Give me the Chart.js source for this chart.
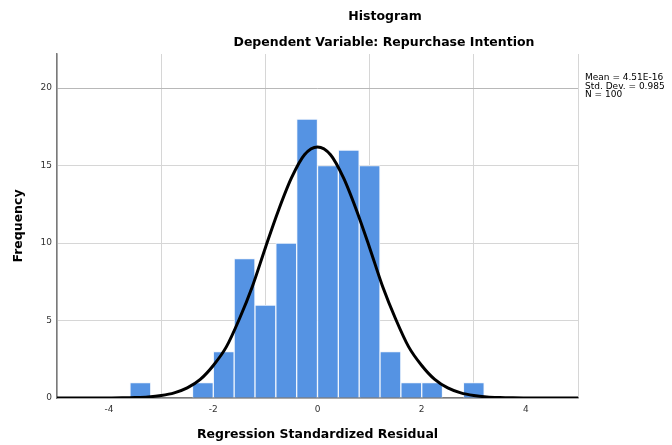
<!DOCTYPE html>
<html>
<head>
<meta charset="utf-8">
<script src="https://cdn.jsdelivr.net/npm/chart.js@4.4.1/dist/chart.umd.min.js"></script>
<style>
  html, body { margin: 0; padding: 0; background: #fff; }
  #wrap { width: 672px; height: 445px; }
</style>
</head>
<body>
<div id="wrap"><canvas id="histograma" width="672" height="445"></canvas></div>
<script>
// dados do histograma (centro de cada faixa de 0.4 e frequencia)
var binCenters = [-3.4, -2.2, -1.8, -1.4, -1.0, -0.6, -0.2, 0.2, 0.6, 1.0, 1.4, 1.8, 2.2, 3.0];
var binCounts  = [1, 1, 3, 9, 6, 10, 18, 15, 16, 15, 3, 1, 1, 1];

// curva normal
var curveX = [-5, -4.5, -4, -3.75, -3.5, -3.25, -3, -2.75, -2.5, -2.25, -2, -1.75, -1.5, -1.25, -1, -0.75, -0.5, -0.25, 0,
              0.25, 0.5, 0.75, 1, 1.25, 1.5, 1.75, 2, 2.25, 2.5, 2.75, 3, 3.25, 3.5, 3.75, 4, 4.5, 5];
var curveY = [0, 0, 0, 0.01, 0.03, 0.07, 0.16, 0.33, 0.65, 1.2, 2.1, 3.3, 5.1, 7.2, 9.7, 12.1, 14.2, 15.7, 16.2,
              15.7, 14.2, 12.1, 9.7, 7.2, 5.1, 3.3, 2.1, 1.2, 0.65, 0.33, 0.16, 0.07, 0.03, 0.01, 0, 0, 0];

var xTicks = [-4, -2, 0, 2, 4];
var yTicks = [0, 5, 10, 15, 20];

var statsLines = ['Mean = 4.51E-16', 'Std. Dev. = 0.985', 'N = 100'];
var titulo = 'Histogram';
var subtitulo = 'Dependent Variable: Repurchase Intention';
var xTitulo = 'Regression Standardized Residual';
var yTitulo = 'Frequency';

var barData = binCenters.map(function (c, i) { return { x: c, y: binCounts[i] }; });
var lineData = curveX.map(function (v, i) { return { x: v, y: curveY[i] }; });

// textos desenhados por fora do grafico
var textos = {
    id: 'textos',
    afterDraw: function (chart) {
        var c = chart.ctx, area = chart.chartArea;
        c.save();
        c.fillStyle = '#000';
        c.textAlign = 'center';
        c.textBaseline = 'middle';
        c.font = 'bold 12.5px "DejaVu Sans"';
        c.fillText(titulo, 385, 17);
        c.fillText(subtitulo, 384, 43);
        c.fillText(xTitulo, (area.left + area.right) / 2, 435);

        c.save();
        c.translate(19, (area.top + area.bottom) / 2);
        c.rotate(-Math.PI / 2);
        c.fillText(yTitulo, 0, 0);
        c.restore();

        c.textAlign = 'left';
        c.font = '9px "DejaVu Sans"';
        for (var i = 0; i < statsLines.length; i++) {
            c.fillText(statsLines[i], 585, 78 + i * 8.5);
        }
        c.restore();
    }
};

var ctx = document.getElementById('histograma').getContext('2d');

var grafico = new Chart(ctx, {
    type: 'bar',
    data: {
        datasets: [
            {
                type: 'line',
                data: lineData,
                borderColor: '#000',
                borderWidth: 3,
                pointRadius: 0,
                fill: false,
                cubicInterpolationMode: 'monotone',
                order: 0
            },
            {
                type: 'bar',
                data: barData,
                backgroundColor: '#5593e3',
                borderColor: 'rgba(240,246,253,0.95)',
                borderWidth: 1,
                barPercentage: 1,
                categoryPercentage: 1,
                order: 1
            }
        ]
    },
    options: {
        responsive: false,
        animation: false,
        layout: { padding: { left: 0, right: 94, top: 54, bottom: 0 } },
        plugins: {
            legend: { display: false },
            tooltip: { enabled: false }
        },
        scales: {
            x: {
                type: 'linear',
                min: -5,
                max: 5,
                offset: false,
                afterBuildTicks: function (scale) {
                    scale.ticks = xTicks.map(function (v) { return { value: v }; });
                },
                afterFit: function (scale) { scale.height = 47; },
                grid: { color: '#d6d6d6', lineWidth: 1, drawTicks: false },
                border: { display: true, color: '#7a7a7a', width: 1.5 },
                ticks: {
                    padding: 6,
                    color: '#333',
                    font: { family: 'DejaVu Sans', size: 9 },
                    maxRotation: 0
                }
            },
            y: {
                type: 'linear',
                min: 0,
                max: 22.2,
                afterBuildTicks: function (scale) {
                    scale.ticks = yTicks.map(function (v) { return { value: v }; });
                },
                afterFit: function (scale) { scale.width = 57; },
                grid: {
                    color: function (c) { return c.tick && c.tick.value === 20 ? '#b8b8b8' : '#d6d6d6'; },
                    lineWidth: 1,
                    drawTicks: false
                },
                border: { display: true, color: '#7a7a7a', width: 1.5 },
                ticks: {
                    padding: 5,
                    color: '#333',
                    font: { family: 'DejaVu Sans', size: 9 }
                }
            }
        }
    },
    plugins: [textos]
});
</script>
</body>
</html>
